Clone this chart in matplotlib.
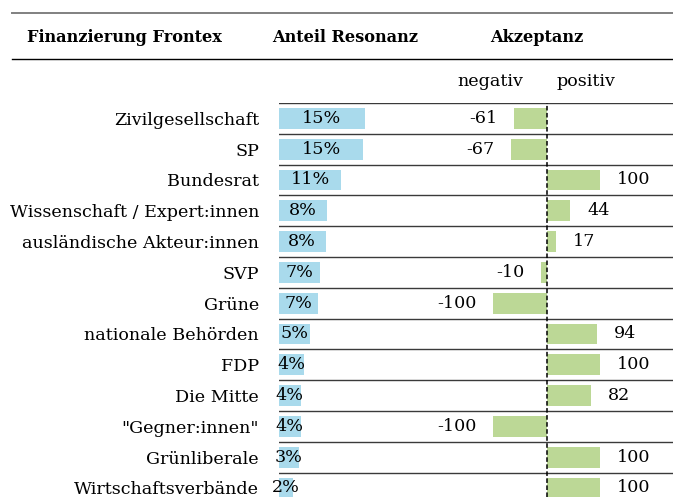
import matplotlib
matplotlib.use("Agg")
import matplotlib.pyplot as plt
from matplotlib.lines import Line2D

# ---- data ----
categories = ["Zivilgesellschaft", "SP", "Bundesrat", "Wissenschaft / Expert:innen",
              "ausländische Akteur:innen", "SVP", "Grüne", "nationale Behörden", "FDP",
              "Die Mitte", "\"Gegner:innen\"", "Grünliberale", "Wirtschaftsverbände"]
resonanz = [14.9, 14.6, 10.8, 8.4, 8.1, 7.1, 6.8, 5.4, 4.4, 3.8, 3.8, 3.4, 2.4]
akzeptanz = [-61, -67, 100, 44, 17, -10, -100, 94, 100, 82, -100, 100, 100]
header_title = "Finanzierung Frontex"
header_res = "Anteil Resonanz"
header_akz = "Akzeptanz"
sub_neg = "negativ"
sub_pos = "positiv"

# ---- style ----
FONT = "DejaVu Serif"
FS = 12.6
FSH = 11.6
BLUE = "#a9daec"
GREEN = "#bcd896"
W, H = 673, 497

plt.rcParams["font.family"] = FONT
fig = plt.figure(figsize=(W / 100, H / 100), dpi=100)


def rect(x0, y0, x1, y1):
    return [x0 / W, 1 - y1 / H, (x1 - x0) / W, (y1 - y0) / H]


def fx(x):
    return x / W


def fy(y):
    return 1 - y / H


n = len(categories)
row_h = 30.8
top = 103
ybot = (H - top) / row_h - 0.5

# green (acceptance) axes
ax2 = fig.add_axes(rect(279, top, W, H))
zero_px, ppu = 546.7, 0.535
ax2.set_xlim(-(zero_px - 279) / ppu, (W - zero_px) / ppu)
ax2.set_ylim(ybot, -0.5)
ax2.axis("off")

# blue (resonance) axes
ax1 = fig.add_axes(rect(279, top, W, H))
ax1.set_xlim(0, (W - 279) / 5.75)
ax1.set_ylim(ybot, -0.5)
ax1.patch.set_alpha(0)
for s in ax1.spines.values():
    s.set_visible(False)
ax1.set_xticks([])
ax1.set_yticks(range(n))
ax1.set_yticklabels(categories, fontsize=FS)
ax1.tick_params(axis="y", length=0, pad=14.4)

ypos = list(range(n))
# row separators
for i in range(n):
    ax2.axhline(i - 0.5, color="#3a3a3a", lw=1.0, zorder=1)

ax1.barh(ypos, resonanz, height=0.68, color=BLUE, zorder=2)
for y, v in zip(ypos, resonanz):
    ax1.text(v / 2, y, f"{v:.0f}%", ha="center", va="center", fontsize=FS, zorder=3)

ax2.barh(ypos, akzeptanz, height=0.68, color=GREEN, zorder=2)
for y, v in zip(ypos, akzeptanz):
    if v >= 0:
        ax2.annotate(f"{v}", (v, y), xytext=(12.2, 0), textcoords="offset points",
                     ha="left", va="center", fontsize=FS)
    else:
        ax2.annotate(f"{v}", (v, y), xytext=(-12.2, 0), textcoords="offset points",
                     ha="right", va="center", fontsize=FS)
ax2.axvline(0, color="black", lw=1.1, ls=(0, (3, 1.6)), zorder=4)

# header
fig.add_artist(Line2D([fx(12), 1], [fy(13), fy(13)], color="#808080", lw=1.4))
fig.add_artist(Line2D([fx(12), 1], [fy(59), fy(59)], color="black", lw=1.0))
fig.text(fx(27), fy(38), header_title, ha="left", va="center", fontsize=FSH, fontweight="bold")
fig.text(fx(345), fy(38), header_res, ha="center", va="center", fontsize=FSH, fontweight="bold")
fig.text(fx(537), fy(38), header_akz, ha="center", va="center", fontsize=FSH, fontweight="bold")
fig.text(fx(490), fy(82), sub_neg, ha="center", va="center", fontsize=FS)
fig.text(fx(586), fy(82), sub_pos, ha="center", va="center", fontsize=FS)

fig.savefig("out.png", dpi=100)
